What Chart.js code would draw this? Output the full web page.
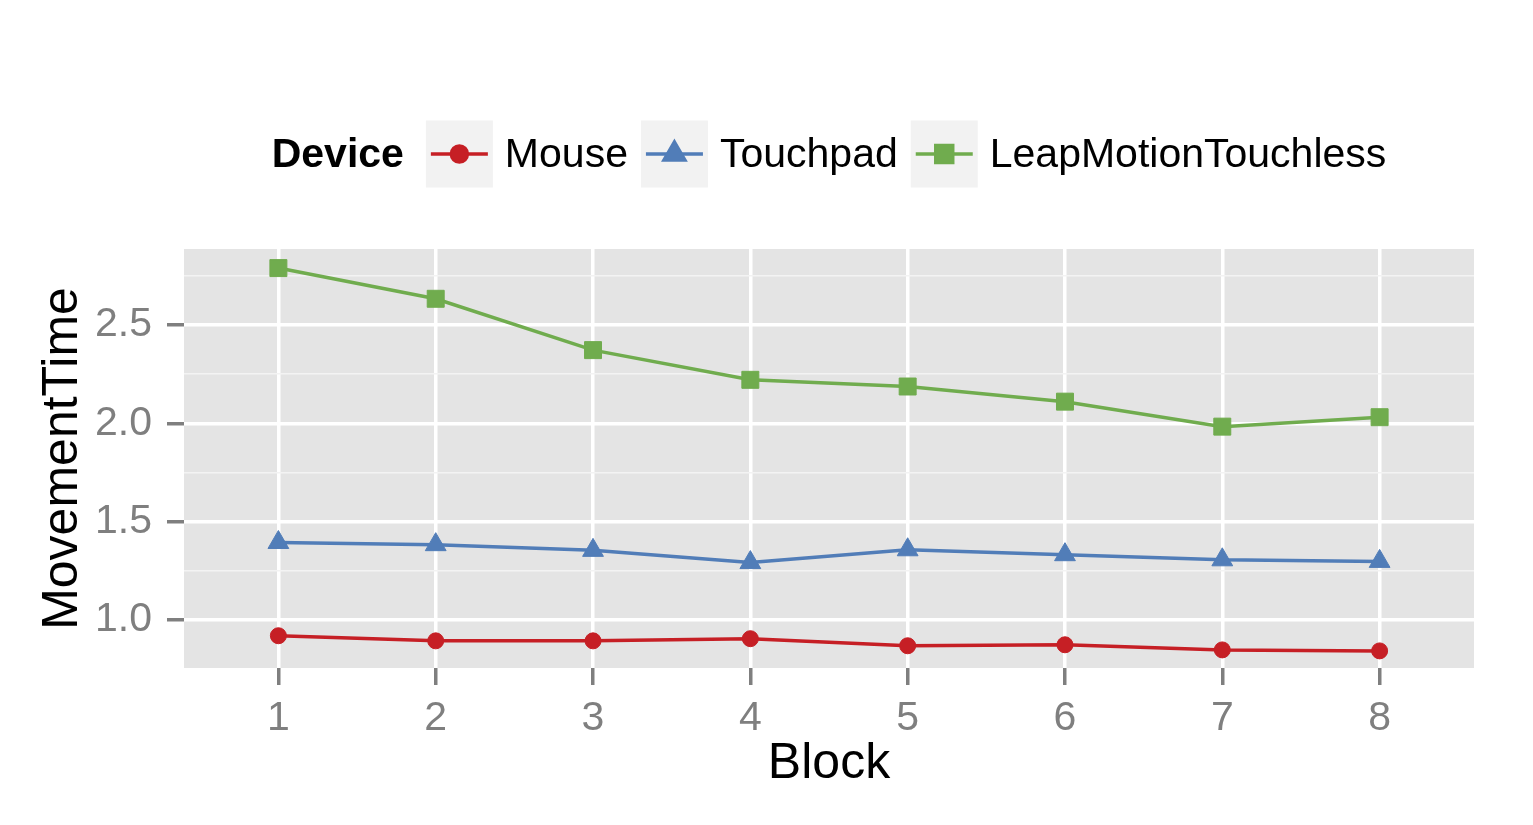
<!DOCTYPE html>
<html>
<head>
<meta charset="utf-8">
<script src="https://cdn.jsdelivr.net/npm/chart.js@4"></script>
<style>
  body { margin: 0; background: #fff; }
  #wrap { width: 1533px; height: 825px; position: relative; }
</style>
</head>
<body>
<div id="wrap"><canvas id="myChart"></canvas></div>
<script>
const blocks = [1, 2, 3, 4, 5, 6, 7, 8];
const mouse = [0.920, 0.894, 0.894, 0.905, 0.869, 0.874, 0.848, 0.843];
const touchpad = [1.394, 1.383, 1.354, 1.292, 1.357, 1.332, 1.306, 1.298];
const leap = [2.789, 2.633, 2.372, 2.221, 2.187, 2.110, 1.983, 2.031];
const yTickLabels = [1.0, 1.5, 2.0, 2.5];
const yMinorTicks = [1.25, 1.75, 2.25, 2.75];
const legendTitle = 'Device';

const FONT = '"Liberation Sans", Arial, Helvetica, sans-serif';
const tickGray = '#7f7f7f';

function pts(arr) {
  return blocks.map((b, i) => ({x: b, y: arr[i]}));
}

const panelBg = {
  id: 'panelBg',
  beforeDraw(chart) {
    const {ctx, chartArea: a} = chart;
    ctx.save();
    ctx.fillStyle = '#e4e4e4';
    ctx.fillRect(a.left, a.top, a.right - a.left, a.bottom - a.top);
    ctx.restore();
  }
};

// ggplot style legend: bold title inline, grey key boxes
const ggLegend = {
  id: 'ggLegend',
  afterDraw(chart) {
    const {ctx, chartArea: a} = chart;
    const sets = chart.data.datasets;
    const box = 67, cy = 154;
    ctx.save();
    ctx.font = 'bold 41px ' + FONT;
    const titleW = ctx.measureText(legendTitle).width;
    ctx.font = '41px ' + FONT;
    const widths = sets.map(d => ctx.measureText(d.label).width);
    let total = titleW + 22;
    widths.forEach((w, i) => { total += box + 12 + w + (i < sets.length - 1 ? 13 : 0); });
    let x = (a.left + a.right) / 2 - total / 2;
    ctx.textBaseline = 'middle';
    ctx.fillStyle = '#000';
    ctx.font = 'bold 41px ' + FONT;
    ctx.fillText(legendTitle, x, cy + 2);
    x += titleW + 22;
    ctx.font = '41px ' + FONT;
    sets.forEach((d, i) => {
      ctx.fillStyle = '#f2f2f2';
      ctx.fillRect(x, cy - box / 2, box, box);
      ctx.strokeStyle = d.borderColor;
      ctx.lineWidth = 3.5;
      ctx.beginPath();
      ctx.moveTo(x + 5, cy);
      ctx.lineTo(x + box - 5, cy);
      ctx.stroke();
      ctx.fillStyle = d.borderColor;
      Chart.helpers.drawPoint(ctx, {pointStyle: d.pointStyle, radius: d.pointRadius, borderWidth: 1}, x + box / 2, cy);
      ctx.fill();
      x += box + 12;
      ctx.fillStyle = '#000';
      ctx.fillText(d.label, x, cy + 2);
      x += widths[i] + 13;
    });
    ctx.restore();
  }
};

const datasets = [
  {label: 'Mouse', data: pts(mouse), borderColor: '#c61f25', backgroundColor: '#c61f25', pointStyle: 'circle', pointRadius: 8},
  {label: 'Touchpad', data: pts(touchpad), borderColor: '#517db8', backgroundColor: '#517db8', pointStyle: 'triangle', pointRadius: 12},
  {label: 'LeapMotionTouchless', data: pts(leap), borderColor: '#70ac4e', backgroundColor: '#70ac4e', pointStyle: 'rect', pointRadius: 12}
].map(d => Object.assign(d, {borderWidth: 3.5, pointBorderWidth: 1, pointHoverRadius: d.pointRadius}));

const config = {
  type: 'line',
  data: {datasets: datasets},
  options: {
    responsive: true,
    maintainAspectRatio: false,
    animation: false,
    layout: {padding: {top: 249, right: 59, left: 0, bottom: 0}},
    plugins: {legend: {display: false}, tooltip: {enabled: false}},
    scales: {
      x: {
        type: 'linear',
        min: 0.4,
        max: 8.6,
        afterBuildTicks: s => { s.ticks = blocks.map(v => ({value: v})); },
        afterFit: s => { s.height = 157; },
        border: {display: false},
        grid: {color: '#ffffff', lineWidth: 3.5, tickColor: tickGray, tickLength: 17, tickWidth: 3.5},
        ticks: {color: tickGray, font: {family: FONT, size: 41}, padding: 9, maxRotation: 0},
        title: {display: true, text: 'Block', color: '#000', font: {family: FONT, size: 50}, padding: {top: 0, bottom: 31}}
      },
      y: {
        type: 'linear',
        min: 0.756,
        max: 2.886,
        afterBuildTicks: s => {
          s.ticks = yTickLabels.concat(yMinorTicks).sort((p, q) => p - q).map(v => ({value: v}));
        },
        afterFit: s => { s.width = 184; },
        border: {display: false},
        grid: {
          color: c => yTickLabels.includes(c.tick.value) ? '#ffffff' : '#f3f3f3',
          lineWidth: c => yTickLabels.includes(c.tick.value) ? 3.5 : 1.5,
          tickColor: c => yTickLabels.includes(c.tick.value) ? tickGray : 'rgba(0,0,0,0)',
          tickLength: 17,
          tickWidth: 3.5
        },
        ticks: {
          color: tickGray,
          font: {family: FONT, size: 41},
          padding: 15,
          callback: v => yTickLabels.includes(v) ? v.toFixed(1) : ''
        },
        title: {display: true, text: 'MovementTime', color: '#000', font: {family: FONT, size: 50}, padding: {top: 33, bottom: 0}}
      }
    }
  },
  plugins: [panelBg, ggLegend]
};

const myChart = new Chart(document.getElementById('myChart'), config);
</script>
</body>
</html>
